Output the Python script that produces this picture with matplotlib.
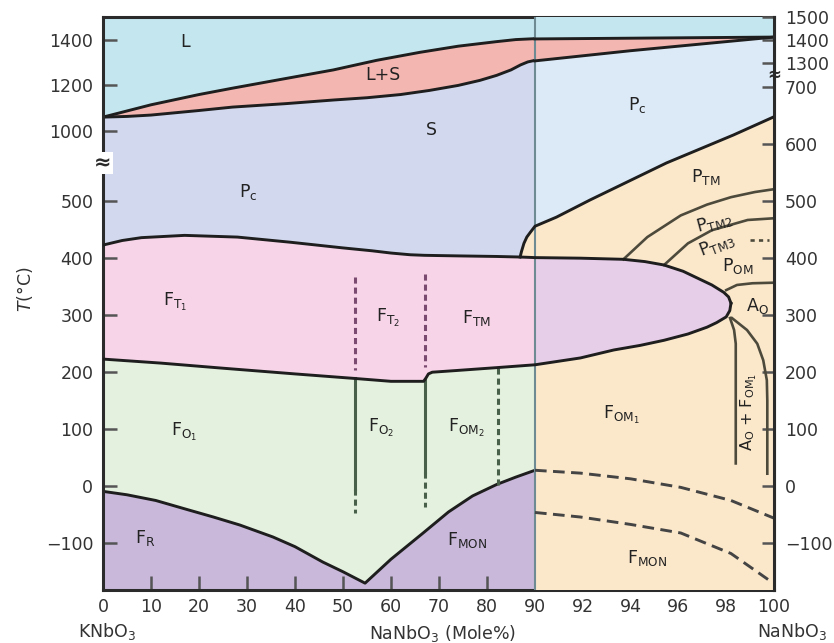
import numpy as np
import matplotlib
matplotlib.use('Agg')
import matplotlib.pyplot as plt
from matplotlib.transforms import blended_transform_factory

plt.rcParams['font.family'] = ['DejaVu Sans']
plt.rcParams['mathtext.fontset'] = 'dejavusans'

# ---- phase boundaries: x = mol% NaNbO3, T in degC ----
# KNbO3-rich part (0-90 %), left temperature axis
liq_x = [0, 10, 20, 27, 38, 48, 57, 66, 74, 82, 86, 90]
liq_T = [1061, 1115, 1160, 1188, 1230, 1268, 1310, 1345, 1372, 1392, 1401, 1405]
sol_x = [0, 5, 10, 20, 27, 38, 48, 55, 62, 68, 74, 78.5, 82, 85, 87, 88.5, 90]
sol_T = [1061, 1064, 1070, 1090, 1105, 1120, 1136, 1146, 1160, 1178, 1200, 1222,
         1244, 1268, 1290, 1303, 1310]

# NaNbO3-rich part (90-100 %), right temperature axis
liq_r_x = [90, 95, 100]
liq_r_T = [1405, 1409, 1413]
sol_r_x = [90, 94, 100]
sol_r_T = [1310, 1354, 1413]

# upper / lower edges of the tetragonal field, closing into the F_TM lens
ft_top_x = [0, 4, 8, 17, 28, 39, 50, 56, 60, 64, 67, 74, 82, 87, 90,
            91.9, 93.7, 94.6, 95.4, 96.2, 96.8, 97.4, 97.9, 98.1, 98.2]
ft_top_T = [423, 431, 436, 440, 437, 428, 418, 413, 409, 406, 405, 404, 403, 402, 401,
            400, 398, 394, 388, 377, 365, 353, 340, 332, 321]
ft_bot_x = [0, 12, 25, 40, 52.5, 60, 66.8, 67.3, 67.8, 68.6, 73.7, 82, 90,
            91.9, 92.6, 93.3, 94.4, 95.4, 96.4, 97.2, 97.6, 98.0, 98.15, 98.2]
ft_bot_T = [223, 216, 207, 197, 189, 184, 184, 190, 197, 200, 203, 208, 213,
            225, 232, 239, 247, 256, 267, 279, 287, 297, 308, 321]
TOP_90 = ft_top_x.index(90)
BOT_90 = ft_bot_x.index(90)

# rhombohedral / monoclinic lower field
fr_x = [0, 5, 11, 18, 23, 28.5, 35.4, 40, 45.8, 50, 54.6,
        60, 66.7, 72, 77, 82, 86, 90]
fr_T = [-9, -15, -25, -42, -54, -68, -89, -106, -133, -150, -170,
        -128, -82, -45, -17, 3, 16, 28]

# cubic / P_TM boundary
pc_x = [86.9, 87.2, 87.7, 88.3, 89, 90, 90.9, 92.3, 95.5, 98.3, 100]
pc_T = [402, 412, 426, 437, 445, 456, 472, 502, 567, 616, 648]
PC_90 = pc_x.index(90)

# antiferroelectric sub-boundaries near pure NaNbO3
ptm_x = [93.7, 94.7, 96.1, 97.2, 98.2, 99.2, 100]
ptm_T = [398, 437, 475, 494, 507, 516, 521]
ptm2_x = [95.4, 96.4, 97.4, 98.9, 100]
ptm2_T = [388, 426, 449, 467, 470]
ptm3_x = [99.0, 99.8]
ptm3_T = [432, 432]
pom_x = [98.0, 98.45, 99.1, 100]
pom_T = [344, 353, 356, 357]
ao_in_x = [98.16, 98.33, 98.4, 98.4]
ao_in_T = [295, 274, 250, 40]
ao_out_x = [98.24, 98.87, 99.3, 99.55, 99.7, 99.72, 99.72]
ao_out_T = [295, 274, 250, 221, 186, 150, 22]
mon1_x = [90, 91.9, 94, 96.1, 98.2, 100]
mon1_T = [28, 23, 13, -2, -25, -56]
mon2_x = [90, 91.9, 94, 96.1, 98.2, 99.8]
mon2_T = [-46, -54, -67, -82, -118, -165]

# vertical phase lines in the KNbO3-rich part: x, (T_top, T_bottom)
v1_x = 52.5
v1_dash_top = [367, 203]
v1_solid = [189, -4]
v1_dash_bot = [-4, -47]
v2_x = 67.1
v2_dash_top = [373, 209]
v2_solid = [187, 25]
v2_dash_bot = [25, -36]
v3_x = 82.3
v3_dash = [207, 2]

left_ticks = [-100, 0, 100, 200, 300, 400, 500, 1000, 1200, 1400]
right_ticks = [-100, 0, 100, 200, 300, 400, 500, 600, 700, 1300, 1400, 1500]
x_ticks = [0, 10, 20, 30, 40, 50, 60, 70, 80, 90, 92, 94, 96, 98, 100]

T_MIN, T_MAX = -182, 1500

# colours
c_liq = '#c4e7ef'
c_ls = '#f3b6b1'
c_pc_l = '#d2d9ef'
c_pc_r = '#dceaf7'
c_ft = '#f7d4e8'
c_lens = '#e6cde8'
c_fo = '#e4f1de'
c_fr = '#c9b8da'
c_beige = '#fbe8cb'
c_line = '#1e1e1e'
c_txt = '#222222'


def piecewise(xp, fp):
    def f(v):
        return np.interp(v, xp, fp)
    return f


# broken axes: stretched x above 90 %, compressed T ranges
x_fwd = piecewise([-100, 90, 200], [-100, 90, 90 + 110 * 4.98])
x_inv = piecewise([-100, 90, 90 + 110 * 4.98], [-100, 90, 200])
yl_fwd = piecewise([-2000, 500, 1000, 3000], [-2000, 500, 623, 1423])
yl_inv = piecewise([-2000, 500, 623, 1423], [-2000, 500, 1000, 3000])
yr_fwd = piecewise([-2000, 700, 1300, 3000], [-2000, 700, 742, 742 + 1700 * 0.405])
yr_inv = piecewise([-2000, 700, 742, 742 + 1700 * 0.405], [-2000, 700, 1300, 3000])

fig = plt.figure(figsize=(8.34, 6.43), dpi=100)
ax = fig.add_axes([103 / 834, 53 / 643, 671 / 834, 573 / 643])
ax.set_xscale('function', functions=(x_fwd, x_inv))
ax.set_yscale('function', functions=(yl_fwd, yl_inv))
ax.set_xlim(0, 100)
ax.set_ylim(T_MIN, T_MAX)

ax2 = ax.twinx()
ax2.set_yscale('function', functions=(yr_fwd, yr_inv))
ax2.set_ylim(T_MIN, T_MAX)

# ---- KNbO3-rich fields ----
ax.fill(liq_x + [90, 0], liq_T + [1600, 1600], color=c_liq, lw=0)
ax.fill(liq_x + sol_x[::-1], liq_T + sol_T[::-1], color=c_ls, lw=0)
ax.fill(sol_x + ft_top_x[:TOP_90 + 1][::-1], sol_T + ft_top_T[:TOP_90 + 1][::-1],
        color=c_pc_l, lw=0)
ax.fill(ft_top_x[:TOP_90 + 1] + ft_bot_x[:BOT_90 + 1][::-1],
        ft_top_T[:TOP_90 + 1] + ft_bot_T[:BOT_90 + 1][::-1], color=c_ft, lw=0)
ax.fill(ft_bot_x[:BOT_90 + 1] + fr_x[::-1], ft_bot_T[:BOT_90 + 1] + fr_T[::-1],
        color=c_fo, lw=0)
ax.fill(fr_x + [90, 0], fr_T + [-300, -300], color=c_fr, lw=0)

# ---- NaNbO3-rich fields ----
ax2.fill(liq_r_x + [100, 90], liq_r_T + [1600, 1600], color=c_liq, lw=0)
ax2.fill(liq_r_x + sol_r_x[::-1], liq_r_T + sol_r_T[::-1], color=c_ls, lw=0)
ax2.fill(sol_r_x + pc_x[PC_90:][::-1], sol_r_T + pc_T[PC_90:][::-1],
         color=c_pc_r, lw=0)
ax2.fill(pc_x + [100, 90, 90], pc_T + [-300, -300, 401], color=c_beige, lw=0)
ax2.fill(ft_top_x[TOP_90:] + ft_bot_x[BOT_90:][::-1],
         ft_top_T[TOP_90:] + ft_bot_T[BOT_90:][::-1], color=c_lens, lw=0)

ax2.axvline(90, color='#6e8a92', lw=1.5, zorder=2)

# ---- boundaries ----
lw = 2.1
ax.plot(liq_x, liq_T, color=c_line, lw=lw)
ax.plot(sol_x, sol_T, color=c_line, lw=lw)
ax.plot(fr_x, fr_T, color=c_line, lw=lw)
ax2.plot(liq_r_x, liq_r_T, color=c_line, lw=lw)
ax2.plot(sol_r_x, sol_r_T, color=c_line, lw=lw)
ax2.plot(ft_top_x, ft_top_T, color=c_line, lw=lw, zorder=3)
ax2.plot(ft_bot_x, ft_bot_T, color=c_line, lw=lw, zorder=3)
ax2.plot(pc_x, pc_T, color=c_line, lw=lw, zorder=3)

c_sub = '#4d4a3c'
ax2.plot(ptm_x, ptm_T, color=c_sub, lw=1.9)
ax2.plot(ptm2_x, ptm2_T, color=c_sub, lw=1.9)
ax2.plot(ptm3_x, ptm3_T, color=c_sub, lw=1.9, dashes=(1.6, 1.6))
ax2.plot(pom_x, pom_T, color=c_sub, lw=1.9)
ax2.plot(ao_in_x, ao_in_T, color=c_sub, lw=1.9)
ax2.plot(ao_out_x, ao_out_T, color=c_sub, lw=1.9)
ax2.plot(mon1_x, mon1_T, color='#444444', lw=2.1, dashes=(4, 2.2))
ax2.plot(mon2_x, mon2_T, color='#444444', lw=2.1, dashes=(4, 2.2))

c_vdash = '#7a4a70'
c_vsolid = '#48604a'
ax.plot([v1_x, v1_x], v1_dash_top, color=c_vdash, lw=2.2, dashes=(2, 1.3))
ax.plot([v1_x, v1_x], v1_solid, color=c_vsolid, lw=2.2)
ax.plot([v1_x, v1_x], v1_dash_bot, color=c_vsolid, lw=2.2, dashes=(2, 1.3))
ax.plot([v2_x, v2_x], v2_dash_top, color=c_vdash, lw=2.2, dashes=(2, 1.3))
ax.plot([v2_x, v2_x], v2_solid, color=c_vsolid, lw=2.2)
ax.plot([v2_x, v2_x], v2_dash_bot, color=c_vsolid, lw=2.2, dashes=(2, 1.3))
ax.plot([v3_x, v3_x], v3_dash, color=c_vsolid, lw=2.2, dashes=(2, 1.3))

# ---- phase labels ----
fs = 12.5
kw = dict(fontsize=fs, color=c_txt, ha='center', va='center', zorder=5)
ax.text(17.1, 1390, 'L', **kw)
ax.text(58.3, 1245, 'L+S', **kw)
ax.text(68.5, 1004, 'S', **kw)
ax.text(30.2, 565, r'P$_\mathrm{c}$', **kw)
ax.text(15, 323, r'F$_{\mathrm{T}_1}$', **kw)
ax.text(59.4, 295, r'F$_{\mathrm{T}_2}$', **kw)
ax.text(77.9, 295, r'F$_\mathrm{TM}$', **kw)
ax.text(17, 96, r'F$_{\mathrm{O}_1}$', **kw)
ax.text(58, 102, r'F$_{\mathrm{O}_2}$', **kw)
ax.text(75.8, 102, r'F$_{\mathrm{OM}_2}$', **kw)
ax.text(8.75, -91, r'F$_\mathrm{R}$', **kw)
ax.text(75.8, -95, r'F$_\mathrm{MON}$', **kw)

ax2.text(94.3, 668, r'P$_\mathrm{c}$', **kw)
ax2.text(97.15, 542, r'P$_\mathrm{TM}$', **kw)
ax2.text(97.5, 463, r'P$_\mathrm{TM2}$', rotation=15, **kw)
ax2.text(97.6, 423, r'P$_\mathrm{TM3}$', rotation=21, **kw)
ax2.text(98.5, 386, r'P$_\mathrm{OM}$', **kw)
ax2.text(99.3, 316, r'A$_\mathrm{O}$', **kw)
ax2.text(98.95, 130, r'A$_\mathrm{O}$ + F$_{\mathrm{OM}_1}$', rotation=90,
         **dict(kw, fontsize=11.5))
ax2.text(93.6, 125, r'F$_{\mathrm{OM}_1}$', **kw)
ax2.text(94.7, -126, r'F$_\mathrm{MON}$', **kw)

# ---- axes styling ----
c_spine = '#2b2b2b'
for s in ax.spines.values():
    s.set_linewidth(2.2)
    s.set_color(c_spine)
for name, s in ax2.spines.items():
    s.set_visible(name == 'right')
    s.set_linewidth(2.2)
    s.set_color(c_spine)

ax.set_xticks(x_ticks)
ax.set_xticklabels([str(v) for v in x_ticks])
ax.set_yticks(left_ticks)
ax.set_yticklabels([str(v).replace('-', '\u2212') for v in left_ticks])
ax2.set_yticks(right_ticks)
ax2.set_yticklabels([str(v).replace('-', '\u2212') for v in right_ticks])
ax.minorticks_off()
ax2.minorticks_off()

ax.tick_params(axis='both', direction='in', length=10, width=1.8, color='#555555',
               labelsize=fs, labelcolor='#333333', top=False, right=False)
ax.tick_params(axis='y', pad=7)
ax.tick_params(axis='x', pad=6)
ax2.tick_params(axis='y', direction='in', length=9, width=1.8, color='#555555',
                labelsize=fs, labelcolor='#333333', pad=8)

# axis breaks
brk_l = blended_transform_factory(ax.transAxes, ax.transData)
ax.text(0, 772, '\u2248', transform=brk_l, fontsize=15, fontweight='bold',
        ha='center', va='center', color=c_spine, clip_on=False, zorder=10,
        bbox=dict(boxstyle='square,pad=0.05', fc='white', ec='none'))
brk_r = blended_transform_factory(ax2.transAxes, ax2.transData)
ax2.text(1, 1000, '\u2248', transform=brk_r, fontsize=12, fontweight='bold',
         ha='center', va='center', color=c_spine, clip_on=False, zorder=10)

fig.text(25 / 834, 1 - 289 / 643, r'$T$(°C)', rotation=90, fontsize=fs,
         color='#333333', ha='center', va='center')
fig.text(107 / 834, 1 - 632 / 643, r'KNbO$_3$', fontsize=fs, color='#333333',
         ha='center', va='center')
fig.text(442 / 834, 1 - 633 / 643, r'NaNbO$_3$ (Mole%)', fontsize=fs,
         color='#333333', ha='center', va='center')
fig.text(792 / 834, 1 - 631 / 643, r'NaNbO$_3$', fontsize=fs, color='#333333',
         ha='center', va='center')

fig.savefig('out.png', dpi=100)
